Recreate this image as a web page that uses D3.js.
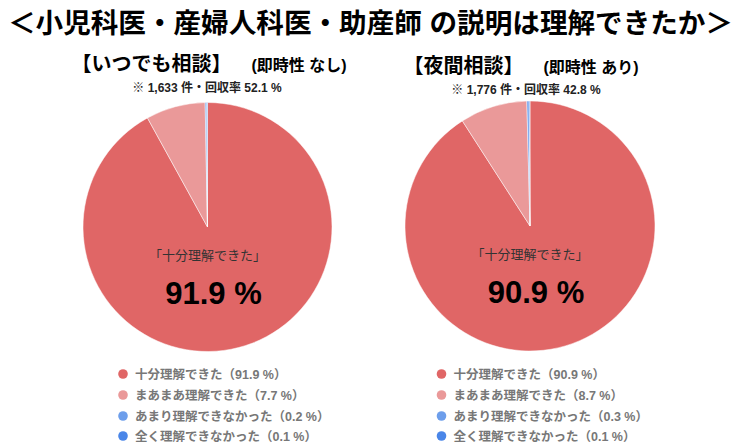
<!DOCTYPE html>
<html>
<head>
<meta charset="utf-8">
<script src="https://cdn.jsdelivr.net/npm/d3@7"></script>
<style>
  body { margin: 0; background: #fff; }
  svg { display: block; }
  text { font-family: "Liberation Sans", "Noto Sans CJK JP", sans-serif; }
</style>
</head>
<body>
<svg id="chart" width="741" height="447"></svg>
<script>
// data
var categories = ["十分理解できた", "まあまあ理解できた", "あまり理解できなかった", "全く理解できなかった"];
var colors = ["#e06666", "#ea9999", "#6d9eeb", "#4a86e8"];
var titleText = "＜小児科医・産婦人科医・助産師 の説明は理解できたか＞";
var panelNames = ["【いつでも相談】", "【夜間相談】"];
var panelNotes = ["(即時性 なし)", "(即時性 あり)"];
var sampleCounts = ["1,633", "1,776"];
var responseRates = ["52.1", "42.8"];
var valuesAnytime = [91.9, 7.7, 0.2, 0.1];
var valuesNight = [90.9, 8.7, 0.3, 0.1];
var allValues = [valuesAnytime, valuesNight];

// layout
var panels = [
  { cx: 207.5, cy: 227, r: 124.5, headX: 209, headY: 71, noteX: 207, noteY: 92, legX: 123 },
  { cx: 530, cy: 226, r: 125, headX: 521, headY: 73, noteX: 526, noteY: 94, legX: 441.5 }
];
var legendY = [374, 395, 416, 436];

var svg = d3.select("#chart");

svg.append("text")
  .attr("x", 370.5)
  .attr("y", 33)
  .attr("text-anchor", "middle")
  .style("font-size", "27.6px")
  .style("font-weight", "bold")
  .style("fill", "#000")
  .text(titleText);

var pie = d3.pie().sort(null).value(function (d) { return d; });

panels.forEach(function (p, i) {
  var vals = allValues[i];

  var head = svg.append("text")
    .attr("x", p.headX)
    .attr("y", p.headY)
    .attr("text-anchor", "middle")
    .style("fill", "#000")
    .style("font-weight", "bold");
  head.append("tspan").style("font-size", "20px").text(panelNames[i]);
  head.append("tspan").attr("dx", 20).style("font-size", "16px").text(panelNotes[i]);

  svg.append("text")
    .attr("x", p.noteX)
    .attr("y", p.noteY)
    .attr("text-anchor", "middle")
    .style("font-size", "12px")
    .style("font-weight", "bold")
    .style("fill", "#222")
    .text("※ " + sampleCounts[i] + " 件・回収率 " + responseRates[i] + " %");

  var arc = d3.arc().innerRadius(0).outerRadius(p.r);
  var g = svg.append("g").attr("transform", "translate(" + p.cx + "," + p.cy + ")");

  g.selectAll("path")
    .data(pie(vals))
    .enter()
    .append("path")
    .attr("d", arc)
    .style("fill", function (d, j) { return colors[j]; })
    .style("stroke", "#fff")
    .style("stroke-width", 0.5);

  g.append("text")
    .attr("x", 0)
    .attr("y", 33)
    .attr("text-anchor", "middle")
    .style("font-size", "13px")
    .style("fill", "#333")
    .text("「" + categories[0] + "」");

  g.append("text")
    .attr("x", 6)
    .attr("y", 77)
    .attr("text-anchor", "middle")
    .style("font-size", "31px")
    .style("font-weight", "bold")
    .style("fill", "#000")
    .text(vals[0] + " %");

  var leg = svg.append("g");
  categories.forEach(function (c, j) {
    leg.append("circle")
      .attr("cx", p.legX)
      .attr("cy", legendY[j])
      .attr("r", 4.8)
      .style("fill", colors[j]);
    leg.append("text")
      .attr("x", p.legX + 12)
      .attr("y", legendY[j] + 4.5)
      .style("font-size", "12.5px")
      .style("font-weight", "bold")
      .style("fill", "#777")
      .text(c + "（" + vals[j].toFixed(1) + " %）");
  });
});
</script>
</body>
</html>
